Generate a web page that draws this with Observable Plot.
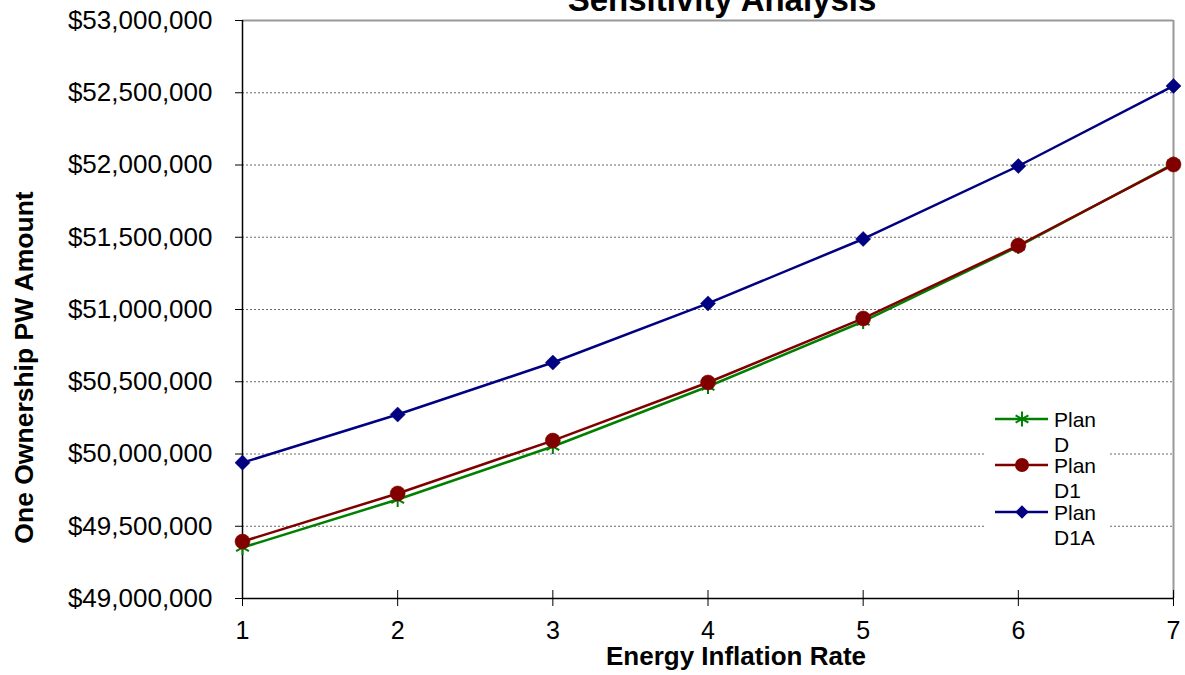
<!DOCTYPE html>
<html>
<head>
<meta charset="utf-8">
<script src="https://cdn.jsdelivr.net/npm/d3@7"></script>
<script src="https://cdn.jsdelivr.net/npm/@observablehq/plot@0.6"></script>
<style>
  html, body { margin: 0; padding: 0; background: #fff; }
  #wrap { position: relative; width: 1185px; height: 675px; overflow: hidden; font-family: "Liberation Sans", Arial, sans-serif; }
  #legend { position: absolute; left: 985px; top: 400px; }
</style>
</head>
<body>
<div id="wrap"></div>
<script>
// ---- data ----
const rates = [1, 2, 3, 4, 5, 6, 7];
const planD   = [49353000, 49685000, 50052000, 50467000, 50917000, 51436000, 52008000];
const planD1  = [49394000, 49727000, 50093000, 50495000, 50938000, 51443000, 52003000];
const planD1A = [49940000, 50273000, 50633000, 51042000, 51488000, 51993000, 52547000];
const seriesNames = ["Plan D", "Plan D1", "Plan D1A"];
const seriesColors = ["#008000", "#800000", "#000080"];
const seriesSymbols = ["asterisk", "circle", "diamond2"];
const yTicks = [49000000, 49500000, 50000000, 50500000, 51000000, 51500000, 52000000, 52500000, 53000000];
const gridLines = [49500000, 50000000, 50500000, 51000000, 51500000, 52000000, 52500000];
const xTicks = [1, 2, 3, 4, 5, 6, 7];
const titleText = "Sensitivity Analysis";
const xLabel = "Energy Inflation Rate";
const yLabel = "One Ownership PW Amount";

const allSeries = [planD, planD1, planD1A];
const rows = allSeries.map((vals, i) => rates.map((r, j) => ({rate: r, value: vals[j], series: seriesNames[i]})));

const font = "Liberation Sans, Arial, sans-serif";
const seriesMarks = [];
rows.forEach((data, i) => {
  seriesMarks.push(Plot.line(data, {x: "rate", y: "value", stroke: seriesColors[i], strokeWidth: 2.5}));
  if (seriesSymbols[i] === "asterisk") {
    seriesMarks.push(Plot.dot(data, {x: "rate", y: "value", symbol: "asterisk", r: 7, stroke: seriesColors[i], strokeWidth: 2, fill: "none"}));
  } else if (seriesSymbols[i] === "circle") {
    seriesMarks.push(Plot.dot(data, {x: "rate", y: "value", symbol: "circle", r: 7.5, fill: seriesColors[i], stroke: seriesColors[i], strokeWidth: 0.5}));
  } else {
    seriesMarks.push(Plot.dot(data, {x: "rate", y: "value", symbol: "diamond2", r: 6.8, fill: seriesColors[i], stroke: seriesColors[i], strokeWidth: 0.5}));
  }
});

const chart = Plot.plot({
  width: 1185,
  height: 675,
  marginLeft: 242,
  marginRight: 12,
  marginTop: 20,
  marginBottom: 77,
  x: {domain: [1, 7]},
  y: {domain: [49000000, 53000000]},
  style: {fontFamily: font, color: "#000", background: "#fff", overflow: "visible"},
  marks: [
    Plot.ruleY(gridLines, {stroke: "#6a6a6a", strokeDasharray: "2,2", strokeWidth: 1}),
    Plot.ruleY([53000000], {stroke: "#999", strokeWidth: 2}),
    Plot.ruleX([7], {stroke: "#999", strokeWidth: 2}),
    Plot.ruleX([1], {stroke: "#000", strokeWidth: 1.5}),
    Plot.ruleY([49000000], {stroke: "#000", strokeWidth: 1.5}),
    Plot.axisY({ticks: yTicks, tickFormat: d3.format("$,"), tickSize: 7, tickPadding: 23, label: null, fontSize: 26, stroke: "#000"}),
    Plot.axisX({ticks: xTicks, tickFormat: d => String(d), tickSize: 8, tickPadding: 15, label: null, fontSize: 25, stroke: "#000"}),
    Plot.axisX({ticks: xTicks, tickSize: 8, dy: -8, text: null, label: null, stroke: "#000"}),
    ...seriesMarks,
    Plot.text([titleText], {frameAnchor: "top", dx: 14, dy: -20, lineAnchor: "middle", fontSize: 33, fontWeight: "bold", fill: "#000"}),
    Plot.text([xLabel], {frameAnchor: "bottom", dx: 28, dy: 58, lineAnchor: "middle", fontSize: 26, fontWeight: "bold", fill: "#000"}),
    Plot.text([yLabel], {frameAnchor: "left", textAnchor: "middle", dx: -218, dy: 58, rotate: -90, lineAnchor: "middle", fontSize: 26.5, fontWeight: "bold", fill: "#000"})
  ]
});
document.getElementById("wrap").appendChild(chart);

// ---- legend (overlay inside plot area) ----
const lg = d3.select("#wrap").append("svg")
  .attr("id", "legend")
  .attr("width", 123).attr("height", 150);
lg.append("rect").attr("width", 123).attr("height", 150).attr("fill", "#fff");
const rowY = [19, 65, 112];
seriesNames.forEach((name, i) => {
  const g = lg.append("g").attr("transform", `translate(0,${rowY[i]})`);
  g.append("line").attr("x1", 10).attr("x2", 63).attr("y1", 0).attr("y2", 0)
    .attr("stroke", seriesColors[i]).attr("stroke-width", 2.5);
  let sym;
  if (seriesSymbols[i] === "asterisk") {
    sym = d3.symbol(d3.symbolAsterisk, Math.PI * 7 * 7)();
    g.append("path").attr("d", sym).attr("transform", "translate(37,0)")
      .attr("stroke", seriesColors[i]).attr("stroke-width", 2).attr("fill", "none");
  } else if (seriesSymbols[i] === "circle") {
    sym = d3.symbol(d3.symbolCircle, Math.PI * 7 * 7)();
    g.append("path").attr("d", sym).attr("transform", "translate(37,0)").attr("fill", seriesColors[i]);
  } else {
    sym = d3.symbol(d3.symbolDiamond2, Math.PI * 6 * 6)();
    g.append("path").attr("d", sym).attr("transform", "translate(37,0)").attr("fill", seriesColors[i]);
  }
  const parts = name.split(" ");
  const t = g.append("text").attr("x", 69).attr("y", 7.5)
    .attr("font-family", font).attr("font-size", 21).attr("fill", "#000");
  t.append("tspan").attr("x", 69).attr("y", 7.5).text(parts[0]);
  t.append("tspan").attr("x", 69).attr("y", 33).text(parts[1]);
});
</script>
</body>
</html>
